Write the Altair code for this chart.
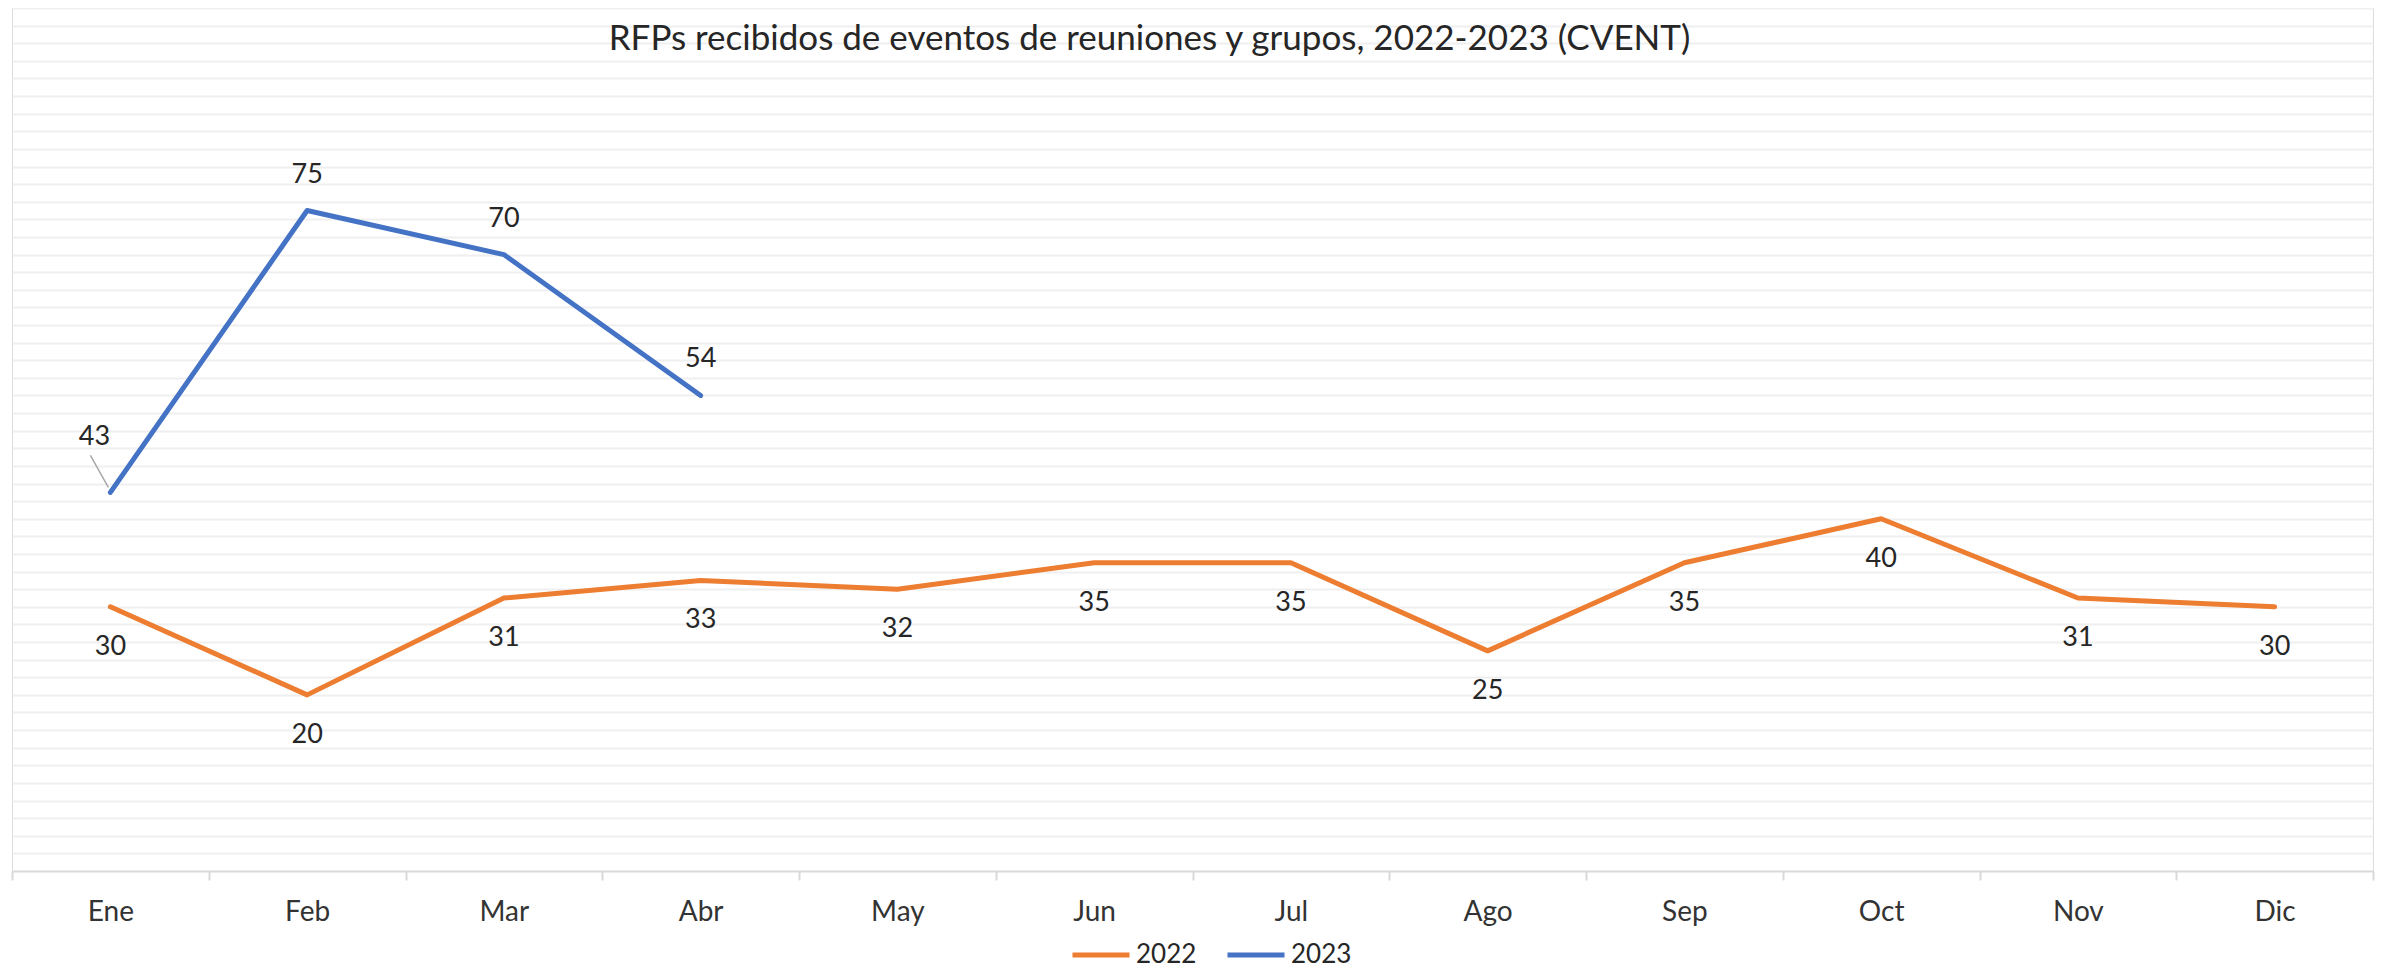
import altair as alt
import pandas as pd

months = ["Ene", "Feb", "Mar", "Abr", "May", "Jun", "Jul", "Ago", "Sep", "Oct", "Nov", "Dic"]
values_2022 = [30, 20, 31, 33, 32, 35, 35, 25, 35, 40, 31, 30]
months_2023 = ["Ene", "Feb", "Mar", "Abr"]
values_2023 = [43, 75, 70, 54]
series = ["2022", "2023"]
colors = ["#ED7D31", "#4472C4"]
grid_values = list(range(2, 100, 2))
title_text = "RFPs recibidos de eventos de reuniones y grupos, 2022-2023 (CVENT)"

rows = [{"mes": m, "valor": v, "serie": "2022"} for m, v in zip(months, values_2022)]
rows += [{"mes": m, "valor": v, "serie": "2023"} for m, v in zip(months_2023, values_2023)]
df = pd.DataFrame(rows)

FONT = "Lato"
TXT = "#262626"

x_enc = alt.X(
    "mes:N",
    sort=months,
    bandPosition=0.5,
    scale=alt.Scale(type="band", domain=months, paddingInner=0, paddingOuter=0),
    axis=alt.Axis(
        title=None,
        tickBand="extent",
        labelAngle=0,
        labelFont=FONT,
        labelFontSize=28,
        labelColor="#333333",
        labelBaseline="middle",
        labelPadding=32,
        tickSize=9,
        tickColor="#D9D9D9",
        tickWidth=2,
        domainColor="#D9D9D9",
        domainWidth=2,
        grid=False,
    ),
)
y_enc = alt.Y(
    "valor:Q",
    scale=alt.Scale(domain=[0, 98], nice=False, zero=True),
    axis=alt.Axis(
        title=None,
        values=grid_values,
        labels=False,
        ticks=False,
        domain=False,
        grid=True,
        gridColor="#EFEFEF",
        gridWidth=2,
    ),
)

base = alt.Chart(df)

lines = base.mark_line(strokeWidth=5, strokeCap="round", strokeJoin="round").encode(
    x=x_enc,
    y=y_enc,
    color=alt.Color(
        "serie:N",
        scale=alt.Scale(domain=series, range=colors),
        legend=alt.Legend(
            title=None,
            orient="none",
            direction="horizontal",
            legendX=1058,
            legendY=916,
            symbolType="stroke",
            symbolSize=3249,
            symbolStrokeWidth=5,
            labelFont=FONT,
            labelFontSize=26,
            labelColor=TXT,
            labelOffset=4,
            columnPadding=20,
        ),
    ),
)

def labels(cond, dx, dy):
    return base.mark_text(font=FONT, fontSize=27, color=TXT, dx=dx, dy=dy, baseline="middle").encode(
        x=x_enc, y=y_enc, text="valor:Q"
    ).transform_filter(cond)

lab_2022 = labels("datum.serie == '2022'", 0, 40)
lab_2023 = labels("datum.serie == '2023' && datum.mes != 'Ene'", 0, -36)
lab_2023_first = labels("datum.serie == '2023' && datum.mes == 'Ene'", -16, -55)

leader = base.mark_rule(
    color="#A6A6A6", strokeWidth=1.5, xOffset=-2, yOffset=-5, x2Offset=-20, y2Offset=-37
).encode(
    x=x_enc,
    x2=alt.X2("mes"),
    y=y_enc,
    y2=alt.Y2("valor"),
).transform_filter("datum.serie == '2023' && datum.mes == 'Ene'")

chart = (
    alt.layer(lines, leader, lab_2022, lab_2023, lab_2023_first)
    .properties(
        width=2361,
        height=863,
        autosize=alt.AutoSizeParams(type="none"),
        padding={"left": 4, "top": 0, "right": 4, "bottom": 99},
        title=alt.TitleParams(
            text=title_text,
            font=FONT,
            fontSize=35,
            fontWeight="normal",
            color=TXT,
            anchor="middle",
            dx=-43,
            dy=53,
        ),
    )
    .configure_view(stroke=None)
    .configure(background="white")
)

chart.save("out.html", embed_options={"renderer": "svg", "actions": False})
